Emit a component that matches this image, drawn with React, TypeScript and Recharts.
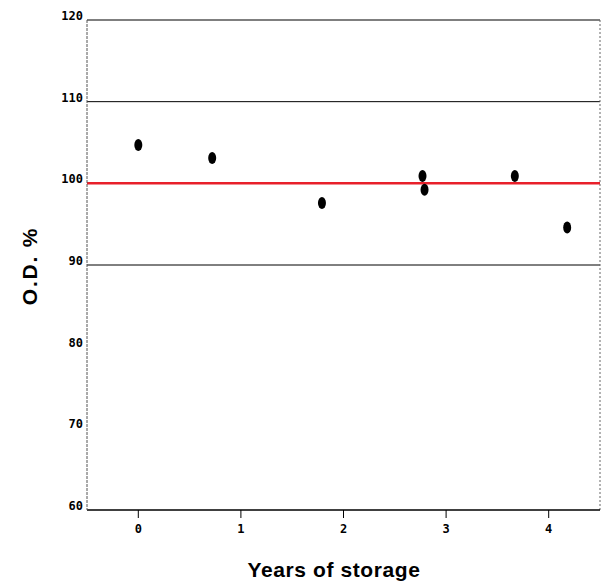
import React from 'react';
import { ScatterChart, Scatter, XAxis, YAxis, ReferenceLine, Label } from 'recharts';

const years = [0, 0.72, 1.79, 2.77, 2.79, 3.67, 4.18];
const odPercent = [104.7, 103.1, 97.6, 100.9, 99.2, 100.9, 94.6];
const xTicks = [0, 1, 2, 3, 4];
const yTicks = [60, 70, 80, 90, 100, 110, 120];

const data = years.map((x, i) => ({ x, y: odPercent[i] }));

const tickFont = { fontFamily: 'DejaVu Sans Mono', fontWeight: 'bold', fontSize: 12 } as const;

const Dot = (props: any) => {
  const { cx, cy } = props;
  return <ellipse cx={cx} cy={cy} rx={4} ry={6} fill="#000" />;
};

const YTick = (props: any) => {
  const { x, y, payload } = props;
  return (
    <text x={x + 4} y={y} textAnchor="end" fill="#000" style={tickFont}>
      {payload.value}
    </text>
  );
};

const XTick = (props: any) => {
  const { x, y, payload } = props;
  return (
    <text x={x} y={y + 13} textAnchor="middle" fill="#000" style={tickFont}>
      {payload.value}
    </text>
  );
};

const YLabel = () => (
  <text x={37} y={266} transform="rotate(-90 37 266)" textAnchor="middle" fill="#000"
    style={{ fontFamily: 'Liberation Sans', fontWeight: 'bold', fontSize: 21, letterSpacing: 1.8 }}>
    O.D. %
  </text>
);

const XLabel = () => (
  <text x={334} y={577} textAnchor="middle" fill="#000"
    style={{ fontFamily: 'Liberation Sans', fontWeight: 'bold', fontSize: 21, letterSpacing: 0.6 }}>
    Years of storage
  </text>
);

export default function App() {
  return (
    <div style={{ position: 'absolute', left: 0, top: 0, background: '#fff' }}>
      <ScatterChart width={606} height={584} margin={{ top: 20, right: 6, bottom: 44, left: 27 }}>
        <XAxis type="number" dataKey="x" domain={[-0.5, 4.5]} ticks={xTicks} height={30}
          axisLine={{ stroke: '#000', strokeWidth: 1.5 }} tickLine={{ stroke: '#000' }} tickSize={8}
          tick={<XTick />} allowDataOverflow>
          <Label content={<XLabel />} />
        </XAxis>
        <YAxis type="number" dataKey="y" domain={[60, 120]} ticks={yTicks} width={60}
          axisLine={{ stroke: '#555', strokeWidth: 1, strokeDasharray: '3 1' }} tickLine={false}
          tick={<YTick />} allowDataOverflow>
          <Label content={<YLabel />} />
        </YAxis>
        <ReferenceLine y={120} stroke="#000" strokeWidth={1.2} />
        <ReferenceLine y={110} stroke="#000" strokeWidth={1} />
        <ReferenceLine y={90} stroke="#000" strokeWidth={1} />
        <ReferenceLine x={4.5} stroke="#666" strokeWidth={1} strokeDasharray="2 2" />
        <ReferenceLine y={100} stroke="#e8202a" strokeWidth={2.5} />
        <Scatter data={data} shape={<Dot />} isAnimationActive={false} />
      </ScatterChart>
    </div>
  );
}
